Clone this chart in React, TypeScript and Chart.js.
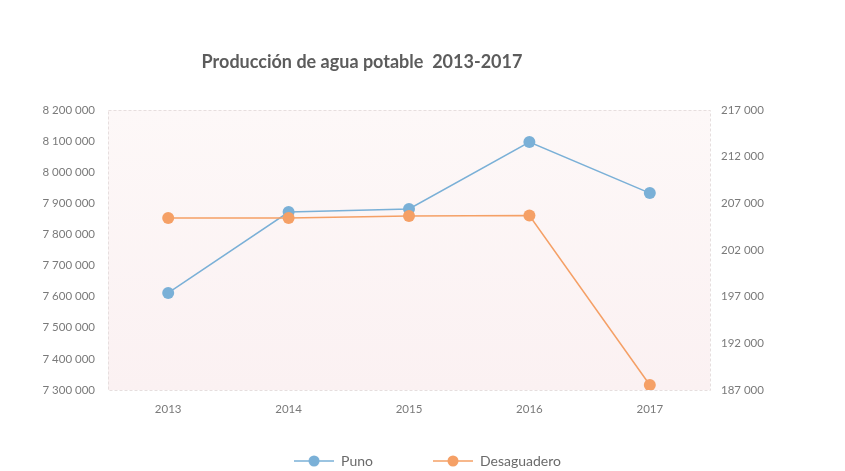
import React, { useEffect, useRef } from "react";
import { Chart, registerables } from "chart.js";

Chart.register(...registerables);

const years = ["2013", "2014", "2015", "2016", "2017"];
const puno = [7612000, 7872000, 7882000, 8097000, 7933000];
const desaguadero = [205430, 205430, 205650, 205700, 187540];
const titleText = "Producción de agua potable  2013-2017";

const fmt = (v: number) => String(Math.round(v)).replace(/\B(?=(\d{3})+(?!\d))/g, " ");

function legendIcon(color: string) {
  const c = document.createElement("canvas");
  c.width = 40;
  c.height = 14;
  const ctx = c.getContext("2d")!;
  ctx.strokeStyle = color;
  ctx.lineWidth = 1.5;
  ctx.beginPath();
  ctx.moveTo(0, 7);
  ctx.lineTo(40, 7);
  ctx.stroke();
  ctx.fillStyle = color;
  ctx.beginPath();
  ctx.arc(20, 7, 5.5, 0, Math.PI * 2);
  ctx.fill();
  return c;
}

export default function App() {
  const ref = useRef<HTMLCanvasElement>(null);
  useEffect(() => {
    const blue = "#7ab0d7";
    const orange = "#f5a066";
    const bgPlugin = {
      id: "bg",
      afterLayout(chart: any) {
        const l = chart.legend;
        if (l) {
          const h = l.bottom - l.top;
          l.top = 394;
          l.bottom = 394 + h;
        }
      },
      beforeDraw(chart: any) {
        const { ctx, chartArea: a } = chart;
        ctx.save();
        ctx.fillStyle = "#ffffff";
        ctx.fillRect(0, 0, chart.width, chart.height);
        const g = ctx.createLinearGradient(0, a.top, 0, a.bottom);
        g.addColorStop(0, "#fdf8f8");
        g.addColorStop(1, "#fbf1f2");
        ctx.fillStyle = g;
        ctx.fillRect(a.left, a.top, a.right - a.left, a.bottom - a.top);
        ctx.strokeStyle = "#e6dede";
        ctx.setLineDash([3, 2]);
        ctx.lineWidth = 1;
        ctx.strokeRect(a.left + 0.5, a.top + 0.5, a.right - a.left, a.bottom - a.top);
        ctx.restore();
      },
      afterDraw(chart: any) {
        const { ctx } = chart;
        ctx.save();
        ctx.font = "bold 18px Lato";
        ctx.fillStyle = "#5c5c5c";
        ctx.textAlign = "center";
        ctx.textBaseline = "middle";
        ctx.fillText(titleText, 362, 62);
        ctx.restore();
      },
    };
    const tickFont = { family: "Lato", size: 11.5 };
    const chart = new Chart(ref.current!, {
      type: "line",
      data: {
        labels: years,
        datasets: [
          {
            label: "Puno",
            data: puno,
            yAxisID: "y",
            order: 1,
            borderColor: blue,
            backgroundColor: blue,
            borderWidth: 1.5,
            pointRadius: 6,
            pointHoverRadius: 6,
            pointBorderWidth: 0,
          },
          {
            label: "Desaguadero",
            data: desaguadero,
            yAxisID: "y1",
            order: 0,
            borderColor: orange,
            backgroundColor: orange,
            borderWidth: 1.5,
            pointRadius: 6,
            pointHoverRadius: 6,
            pointBorderWidth: 0,
          },
        ],
      },
      options: {
        responsive: false,
        animation: false,
        layout: { padding: { top: 110, left: 10, right: 0, bottom: -33 } },
        plugins: {
          title: { display: false },
          tooltip: { enabled: false },
          legend: {
            position: "bottom",
            labels: {
              usePointStyle: true,
              pointStyleWidth: 40,
              boxHeight: 14,
              padding: 60,
              color: "#6a6a6a",
              font: { family: "Lato", size: 14 },
              generateLabels: (chart: any) =>
                chart.data.datasets.map((d: any, i: number) => ({
                  text: d.label,
                  pointStyle: legendIcon(d.borderColor),
                  fillStyle: d.borderColor,
                  strokeStyle: d.borderColor,
                  lineWidth: 0,
                  fontColor: "#6a6a6a",
                  datasetIndex: i,
                  hidden: false,
                })),
            },
          },
        },
        scales: {
          x: {
            offset: true,
            grid: { display: false },
            border: { display: false },
            ticks: { color: "#7a7a7a", font: tickFont, padding: 4 },
            afterFit: (s: any) => {
              s.height = 30;
            },
          },
          y: {
            position: "left",
            min: 7300000,
            max: 8200000,
            grid: { display: false },
            border: { display: false },
            ticks: {
              stepSize: 100000,
              color: "#7a7a7a",
              font: tickFont,
              padding: 5,
              callback: (v: any) => fmt(Number(v)),
            },
            afterFit: (s: any) => {
              s.width = 98;
            },
          },
          y1: {
            position: "right",
            min: 187000,
            max: 217000,
            grid: { display: false },
            border: { display: false },
            ticks: {
              stepSize: 5000,
              color: "#7a7a7a",
              font: tickFont,
              padding: 3,
              callback: (v: any) => fmt(Number(v)),
            },
            afterFit: (s: any) => {
              s.width = 135;
            },
          },
        },
      },
      plugins: [bgPlugin],
    } as any);
    return () => chart.destroy();
  }, []);
  return (
    <div style={{ position: "fixed", left: 0, top: 0, width: 845, height: 471 }}>
      <canvas ref={ref} width={845} height={471} style={{ display: "block" }} />
    </div>
  );
}
